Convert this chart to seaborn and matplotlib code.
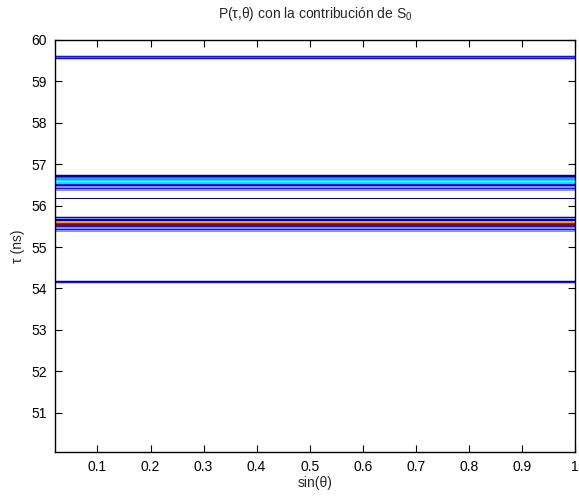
import numpy as np
import matplotlib
matplotlib.use("Agg")
import matplotlib.pyplot as plt
from matplotlib.colors import ListedColormap, BoundaryNorm
import seaborn as sns

# ---------------- data ----------------
sin_theta_edges = [0.02, 1.0]

# band rows: tau edges (bottom -> top) and intensity code per row
band1_tau = [59.52, 59.54, 59.57, 59.60, 59.62, 59.64]
band1_code = [0, 3, 2, 3, 0]

band2_tau = [56.36, 56.39, 56.43, 56.47, 56.50, 56.53, 56.56, 56.60, 56.63, 56.66, 56.70, 56.74, 56.755]
band2_code = [1, 3, 1, 4, 3, 6, 7, 6, 5, 2, 4, 0]

band3_tau = [56.155, 56.165, 56.18, 56.19]
band3_code = [0, 4, 0]

band4_tau = [55.36, 55.40, 55.44, 55.48, 55.52, 55.54, 55.56, 55.59, 55.62, 55.64, 55.68, 55.71, 55.725, 55.745]
band4_code = [1, 3, 1, 3, 5, 10, 9, 8, 7, 4, 1, 12, 0]

band5_tau = [54.11, 54.13, 54.15, 54.17, 54.19, 54.205]
band5_code = [0, 3, 4, 3, 0]

bands_tau = [band1_tau, band2_tau, band3_tau, band4_tau, band5_tau]
bands_code = [band1_code, band2_code, band3_code, band4_code, band5_code]

x_ticks = [0.1, 0.2, 0.3, 0.4, 0.5, 0.6, 0.7, 0.8, 0.9, 1.0]
x_ticklabels = ["0.1", "0.2", "0.3", "0.4", "0.5", "0.6", "0.7", "0.8", "0.9", "1"]
y_ticks = [51, 52, 53, 54, 55, 56, 57, 58, 59, 60]

# ---------------- style ----------------
sns.set_style("white")
plt.rcParams["font.family"] = ["Liberation Sans", "DejaVu Sans"]
plt.rcParams["mathtext.fontset"] = "custom"
plt.rcParams["mathtext.rm"] = "Liberation Sans"
plt.rcParams["mathtext.it"] = "Liberation Sans"

palette = ["#c4c4ee", "#8c8cf5", "#4a4ae8", "#1414e6", "#00009c", "#3c8cff",
           "#00e6ff", "#f5f500", "#ff9900", "#cc0000", "#800000", "#7fff7f", "#101050"]
cmap = ListedColormap(palette)
norm = BoundaryNorm(np.arange(-0.5, len(palette) + 0.5, 1), cmap.N)

fig = plt.figure(figsize=(5.79, 4.98), dpi=100)
ax = fig.add_axes([0.095, 0.0924, 0.898, 0.8273])

for taus, codes in zip(bands_tau, bands_code):
    C = np.array(codes, dtype=float).reshape(-1, 1)
    ax.pcolormesh(sin_theta_edges, taus, C, cmap=cmap, norm=norm,
                  shading="flat", edgecolors="none")

ax.set_xlim(0.02, 1.0)
ax.set_ylim(50.05, 60)
ax.set_xticks(x_ticks)
ax.set_xticklabels(x_ticklabels)
ax.set_yticks(y_ticks)

ax.tick_params(direction="in", length=5, width=0.8, top=True, right=True,
               bottom=True, left=True, labelsize=10, colors="black", pad=6)
for s in ax.spines.values():
    s.set_visible(True)
    s.set_color("black")
    s.set_linewidth(1.0)

ax.set_xlabel("sin(θ)", fontsize=10, labelpad=1)
ax.set_ylabel("τ (ns)", fontsize=10, labelpad=4)
ax.set_title("P(τ,θ) con la contribución de S$_0$", fontsize=10, pad=16)

fig.savefig("out.png", dpi=100, facecolor="white")
